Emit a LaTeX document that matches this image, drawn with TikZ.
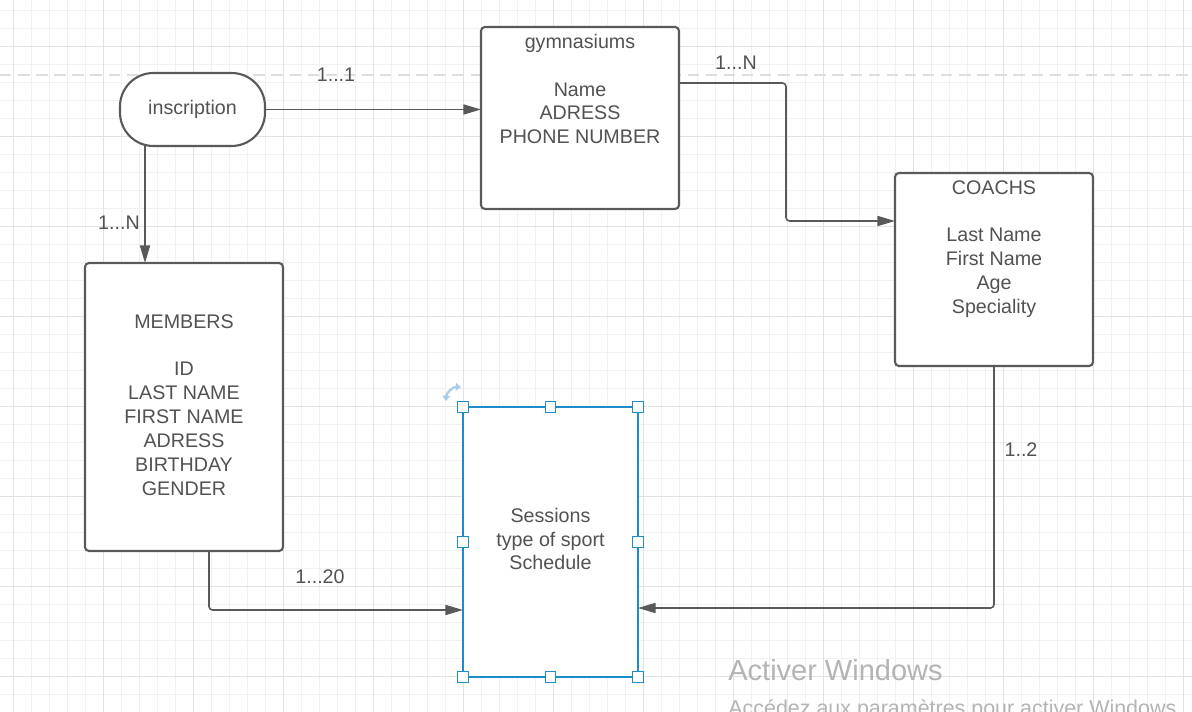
\documentclass[tikz,border=0pt]{standalone}
\usepackage{fontspec}
\setmainfont{Liberation Sans}
\usetikzlibrary{arrows.meta,calc}

\definecolor{lineg}{RGB}{89,89,89}
\definecolor{textg}{RGB}{82,82,82}
\definecolor{selblue}{RGB}{30,140,200}
\definecolor{rotblue}{RGB}{170,205,235}
\definecolor{gridminor}{RGB}{241,241,241}
\definecolor{gridmajor}{RGB}{226,226,226}
\definecolor{dashg}{RGB}{222,222,222}
\definecolor{wmark}{RGB}{180,180,180}

\begin{document}
\begin{tikzpicture}[x=0.02cm,y=-0.02cm,
		txt/.style={text=textg,align=center,inner sep=0pt,font=\fontsize{11.2}{13.6}\selectfont},
		box/.style={draw=lineg,fill=white,line width=1.2pt,rounded corners=2.2pt,outer sep=0pt},
		link/.style={draw=lineg,line width=0.9pt,rounded corners=2pt,-{Triangle[length=10pt,width=5.7pt]}},
		handle/.style={draw=selblue,fill=white,line width=0.7pt,minimum size=6pt,inner sep=0pt},
		wm/.style={anchor=base west,inner sep=0pt,text=wmark}]
			\useasboundingbox (0,0) rectangle (1192,712);
			\clip (0,0) rectangle (1192,712);
			\fill[white] (0,0) rectangle (1192,712);
			
			% grid
			\foreach \x in {13,31,...,1192} \draw[gridminor,line width=0.55pt] (\x,0) -- (\x,712);
			\foreach \y in {10,28,...,712} \draw[gridminor,line width=0.55pt] (0,\y) -- (1192,\y);
			\foreach \x in {13,103,...,1192} \draw[gridmajor,line width=0.55pt] (\x,0) -- (\x,712);
			\foreach \y in {46,136,...,712} \draw[gridmajor,line width=0.55pt] (0,\y) -- (1192,\y);
			\draw[dashg,line width=1.6pt,dash pattern=on 6.5pt off 3.8pt] (0,75) -- (1192,75);
			
			% entities
			\node[box,txt,rounded corners=19pt,minimum width=2.9cm,minimum height=1.46cm] (insc) at (192.5,109.5) {inscription};
			
			\node[box,minimum width=3.96cm,minimum height=3.64cm] (gym) at (580,118) {};
			\node[txt] (gymtxt) at (580,89) {gymnasiums\\[13.6pt]Name\\ADRESS\\PHONE NUMBER};
			
			\node[box,minimum width=3.96cm,minimum height=3.86cm] (coach) at (994,269.5) {};
			\node[txt] (coachtxt) at (994,249) {COACHS\\[13.6pt]Last Name\\First Name\\Age\\Speciality};
			
			\node[box,minimum width=3.96cm,minimum height=5.76cm] (mem) at (184,407) {};
			\node[txt] (memtxt) at (184,405) {MEMBERS\\[13.6pt]ID\\LAST NAME\\FIRST NAME\\ADRESS\\BIRTHDAY\\GENDER};
			
			\node[box,draw=selblue,line width=1.4pt,rounded corners=0pt,minimum width=3.5cm,minimum height=5.4cm] (sess) at (550.5,542) {};
			\node[txt] (sesstxt) at (550.5,539) {Sessions\\type of sport\\Schedule};
			
			% selection handles
			\foreach \a [count=\i] in {north west,north,north east,west,east,south west,south,south east}
				\node[handle] (hd\i) at (sess.\a) {};
			\draw[rotblue,line width=1.3pt,{Triangle[length=3pt,width=4.5pt]}-{Triangle[length=3pt,width=4.5pt]}] (446,401) to[bend left=45] (461,387);
			
			% connectors
			\coordinate (inscout) at ($(insc.south)+(-47.5,0)$);
			\coordinate (gymout) at ($(gym.north east)+(0,56)$);
			\coordinate (coachin) at ($(coach.north west)+(0,48)$);
			\coordinate (memout) at ($(mem.south)+(25,0)$);
			\coordinate (sessl) at ($(sess.west)+(0,68)$);
			\coordinate (sessr) at ($(sess.east)+(0,66)$);
			
			\draw[link] (insc.east) -- (insc.east -| gym.west);
			\draw[link] (inscout) -- (inscout |- mem.north);
			\draw[link] (gymout) -| (786,221) -- (coachin);
			\draw[link] (memout) |- (sessl);
			\draw[link] (coach.south) |- (sessr);
			
			\node[txt] (lab11) at (336,75) {1...1};
			\node[txt] (labgc) at (736,63) {1...N};
			\node[txt] (labim) at (119,223) {1...N};
			\node[txt] (labms) at (320,577) {1...20};
			\node[txt] (labcs) at (1021,450) {1..2};
			
			% watermark
			\node[wm,font=\fontsize{16.5}{18}\selectfont] (wm1) at (728,680) {Activer Windows};
			\node[wm,font=\fontsize{12.2}{14}\selectfont] (wm2) at (728,715) {Accédez aux paramètres pour activer Windows.};
\end{tikzpicture}
\end{document}
